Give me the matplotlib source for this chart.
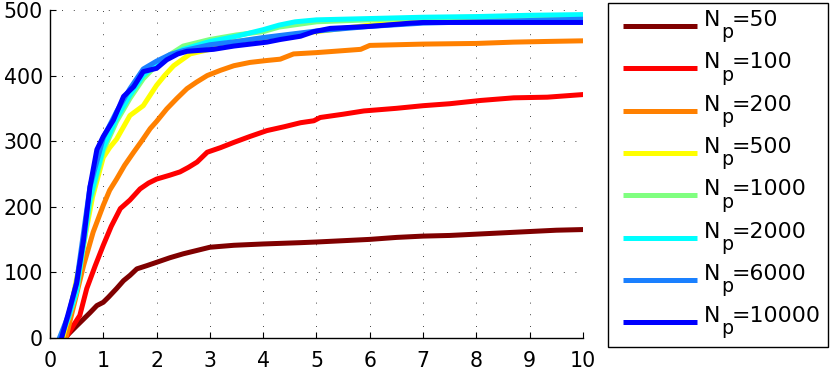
import matplotlib
matplotlib.use("Agg")
import matplotlib.pyplot as plt
from matplotlib.lines import Line2D
from matplotlib.patches import Rectangle

plt.rcParams['font.family'] = ['DejaVu Sans']

labels = ["50", "100", "200", "500", "1000", "2000", "6000", "10000"]
colors = ["#800000", "#ff0000", "#ff8000", "#ffff00", "#80ff80", "#00ffff", "#1a80ff", "#0000ff"]

x_50 = [0.28, 0.5, 0.75, 0.88, 1.0, 1.1, 1.25, 1.38, 1.5, 1.63, 1.82, 2.0, 2.25, 2.5, 2.75, 3.0, 3.45, 4.0, 4.7,
        5.0, 5.5, 6.0, 6.5, 7.0, 7.5, 8.0, 8.5, 9.0, 9.5, 10.0]
y_50 = [0, 18, 38, 49, 54, 62, 75, 87, 95, 105, 110, 115, 122, 128, 133, 138, 141, 143, 145,
        146, 148, 150, 153, 155, 156, 158, 160, 162, 164, 165]

x_100 = [0.3, 0.45, 0.56, 0.69, 0.85, 1.0, 1.15, 1.32, 1.5, 1.69, 1.85, 2.0, 2.25, 2.44, 2.6, 2.76, 2.95, 3.2,
         3.45, 3.75, 4.07, 4.4, 4.7, 4.95, 5.07, 5.5, 5.89, 6.5, 7.0, 7.5, 8.08, 8.7, 9.33, 10.0]
y_100 = [0, 20, 34, 75, 110, 141, 170, 197, 210, 227, 236, 242, 248, 253, 260, 268, 283, 290,
         298, 307, 316, 322, 328, 331, 336, 341, 346, 350, 354, 357, 362, 366, 367, 371]

x_200 = [0.3, 0.45, 0.63, 0.81, 1.0, 1.12, 1.25, 1.4, 1.57, 1.72, 1.88, 2.0, 2.19, 2.38, 2.57, 2.75, 2.95, 3.2,
         3.45, 3.75, 4.07, 4.32, 4.57, 5.0, 5.5, 5.83, 6.0, 7.0, 8.0, 8.7, 9.3, 10.0]
y_200 = [0, 50, 110, 161, 202, 225, 242, 263, 283, 300, 319, 330, 349, 365, 380, 390, 400, 408,
         415, 420, 423, 425, 433, 435, 438, 440, 446, 448, 449, 451, 452, 453]

x_500 = [0.24, 0.4, 0.6, 0.8, 1.0, 1.12, 1.25, 1.5, 1.75, 2.0, 2.15, 2.32, 2.63, 3.0, 3.38, 4.0, 4.5, 5.0,
         5.5, 6.0, 7.0, 8.0, 9.0, 10.0]
y_500 = [0, 50, 130, 215, 275, 290, 303, 339, 354, 385, 400, 415, 433, 440, 451, 457, 462, 467,
         472, 477, 482, 485, 487, 488]

x_1000 = [0.2, 0.35, 0.5, 0.75, 1.0, 1.25, 1.5, 1.75, 2.0, 2.25, 2.5, 3.0, 3.5, 4.0, 4.3, 5.0, 6.0, 7.0, 8.0, 9.0, 10.0]
y_1000 = [0, 30, 70, 205, 285, 330, 365, 395, 416, 432, 445, 455, 462, 467, 474, 482, 485, 488, 489, 490, 491]

x_2000 = [0.2, 0.35, 0.5, 0.75, 1.0, 1.25, 1.5, 1.75, 2.0, 2.25, 2.5, 3.0, 3.5, 4.0, 4.3, 4.6, 5.0, 6.0, 7.0, 8.0, 9.0, 10.0]
y_2000 = [0, 32, 72, 212, 290, 335, 370, 400, 418, 430, 440, 452, 460, 470, 477, 482, 485, 487, 489, 490, 492, 493]

x_6000 = [0.18, 0.35, 0.5, 0.75, 1.0, 1.25, 1.5, 1.75, 2.0, 2.25, 2.5, 3.0, 3.5, 4.0, 4.5, 5.0, 6.0, 7.0, 8.0, 9.0, 10.0]
y_6000 = [0, 35, 85, 230, 305, 345, 380, 410, 422, 432, 438, 447, 452, 458, 463, 468, 475, 480, 482, 484, 486]

x_10000 = [0.22, 0.31, 0.5, 0.63, 0.75, 0.88, 1.0, 1.19, 1.38, 1.57, 1.75, 2.0, 2.19, 2.4, 2.57, 3.07, 3.45,
           4.07, 4.32, 4.7, 4.95, 5.26, 6.0, 6.77, 7.0, 8.0, 9.0, 10.0]
y_10000 = [0, 27, 83, 149, 230, 287, 307, 332, 368, 383, 406, 411, 424, 433, 437, 440, 445,
           451, 455, 460, 467, 472, 475, 480, 481, 481, 481, 481]

xs = [x_50, x_100, x_200, x_500, x_1000, x_2000, x_6000, x_10000]
ys = [y_50, y_100, y_200, y_500, y_1000, y_2000, y_6000, y_10000]

x_ticks = list(range(0, 11))
y_ticks = [0, 100, 200, 300, 400, 500]

W, H = 830, 371
fig = plt.figure(figsize=(W / 100, H / 100), dpi=100)
ax = fig.add_axes([0.0602, 0.0898, 0.6422, 0.8832])

for x, y, c in zip(xs, ys, colors):
    ax.plot(x, y, color=c, lw=3.6)

ax.set_xlim(0, 10)
ax.set_ylim(0, 500)
ax.set_xticks(x_ticks)
ax.set_yticks(y_ticks)
ax.tick_params(direction='in', length=4, width=0.8, labelsize=14.8, colors='black')
ax.tick_params(axis='x', pad=9.5)
ax.tick_params(axis='y', pad=5)
ax.spines['top'].set_visible(False)
ax.spines['right'].set_visible(False)
for s in ('left', 'bottom'):
    ax.spines[s].set_linewidth(1.0)
ax.grid(True, color='black', lw=0.6, linestyle=(0, (1, 13)))


def fx(px):
    return px / W


def fy(py):
    return 1 - py / H


# legend box (pixel layout of the reference)
box_l, box_r, box_t, box_b = 608.3, 828.3, 2.7, 347.3
fig.add_artist(Rectangle((fx(box_l), fy(box_b)), fx(box_r) - fx(box_l), fy(box_t) - fy(box_b),
                         transform=fig.transFigure, facecolor='white', edgecolor='black', lw=1.0))
row0, dy = 26.0, 42.3
for i, (c, lab) in enumerate(zip(colors, labels)):
    yb = row0 + i * dy
    fig.add_artist(Line2D([fx(623), fx(697)], [fy(yb), fy(yb)], transform=fig.transFigure,
                          color=c, lw=3.6, solid_capstyle='butt'))
    fig.text(fx(703.5), fy(yb), "N", fontsize=15.8, ha='left', va='baseline')
    fig.text(fx(721), fy(yb + 12.3), "p", fontsize=13.7, ha='left', va='baseline')
    fig.text(fx(732), fy(yb), "=" + lab, fontsize=15.8, ha='left', va='baseline')

fig.savefig("out.png", dpi=100)
